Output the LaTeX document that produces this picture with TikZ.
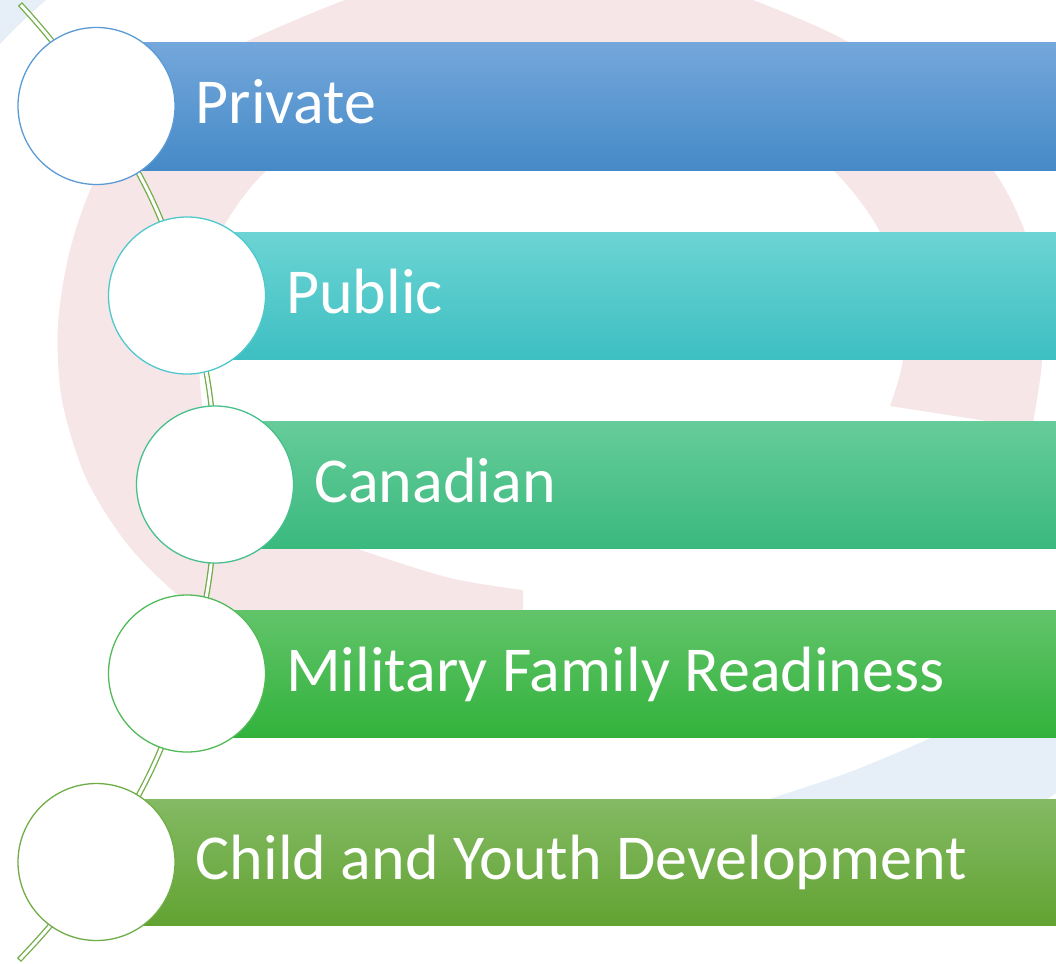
\documentclass[tikz,border=0pt]{standalone}
\usepackage{fontspec}
\setmainfont{Carlito}
\definecolor{bgpink}{RGB}{246,230,232}
\definecolor{bgblue}{RGB}{230,238,248}
\definecolor{linkgreen}{RGB}{112,173,71}
\definecolor{b1t}{RGB}{116,167,219}\definecolor{b1m}{RGB}{88,156,218}\definecolor{b1b}{RGB}{69,138,199}
\definecolor{b2t}{RGB}{108,212,212}\definecolor{b2m}{RGB}{80,208,212}\definecolor{b2b}{RGB}{62,191,194}
\definecolor{b3t}{RGB}{102,204,153}\definecolor{b3m}{RGB}{71,198,139}\definecolor{b3b}{RGB}{58,185,126}
\definecolor{b4t}{RGB}{98,196,106}\definecolor{b4m}{RGB}{66,190,74}\definecolor{b4b}{RGB}{50,178,60}
\definecolor{b5t}{RGB}{132,186,100}\definecolor{b5m}{RGB}{108,174,62}\definecolor{b5b}{RGB}{98,163,50}
\definecolor{c1c}{RGB}{91,155,213}
\definecolor{c2c}{RGB}{79,200,204}
\definecolor{c3c}{RGB}{72,192,140}
\definecolor{c4c}{RGB}{82,186,88}
\definecolor{c5c}{RGB}{112,173,71}
\begin{document}
\begin{tikzpicture}[x=1pt,y=1pt,
  ring/.style={circle, minimum size=157, inner sep=0pt, fill=white, line width=1.3pt},
  lbl/.style={anchor=base west, inner sep=0pt, text=white, font=\fontsize{64}{76}\selectfont}]
\useasboundingbox (0,0) rectangle (1056,-963);
\fill[white] (0,0) rectangle (1056,-963);
% background shapes
\begin{scope}
\clip (0,0) rectangle (1056,-963);
\fill[bgpink] plot[smooth] coordinates {(523,-712) (380,-692) (262,-652) (184,-600) (128,-545) (86,-478) (62,-400) (58,-325) (70,-250) (95,-180) (140,-115) (200,-68) (250,-40) (345,0) (450,35) (550,46) (650,35) (753,0) (850,-43) (930,-102) (993,-170) (1025,-232) (1040,-300) (1042,-360) (1036,-405) (1032,-428)}
  -- plot[smooth] coordinates {(890,-406) (903,-359) (898,-300) (880,-232) (833,-170) (760,-118) (660,-88) (550,-80) (440,-92) (340,-125) (267,-170) (222,-230) (203,-300) (200,-383) (213,-450) (255,-510) (355,-548) (450,-578) (523,-590)}
  -- cycle;
\fill[bgblue] plot[smooth] coordinates {(740,-812) (770,-799) (850,-772) (933,-737) (1010,-700) (1080,-660)}
  -- (1100,-660) -- (1100,-760) -- plot[smooth] coordinates {(1056,-793) (1047,-799) (1020,-815)} -- cycle;
\fill[bgblue] (0,0) -- (46,0) .. controls (30,-14) and (14,-29) .. (0,-44) -- cycle;
\end{scope}
% circle centres and connector ends
\coordinate (p1) at (96.5,-106);
\coordinate (p2) at (187,-295.5);
\coordinate (p3) at (215,-484.5);
\coordinate (p4) at (187,-673.5);
\coordinate (p5) at (96.5,-862);
\coordinate (ctop) at (20,-4);
\coordinate (cbot) at (19,-960);
\def\mylinkpath{(ctop) to[bend left=5.5] (p1) to[bend left=9.1] (p2) to[bend left=8.3] (p3) to[bend left=8.3] (p4) to[bend left=9.1] (p5) to[bend left=5.4] (cbot)}
\draw[linkgreen, line width=5.6pt] \mylinkpath;
\draw[white, line width=3pt, shorten <=1.3pt, shorten >=1.3pt] \mylinkpath;
% bars
\shade[top color=b1t, middle color=b1m, bottom color=b1b] (96.5,-43) rectangle (1056,-170);
\shade[top color=b2t, middle color=b2m, bottom color=b2b] (187,-232) rectangle (1056,-359);
\shade[top color=b3t, middle color=b3m, bottom color=b3b] (215,-421) rectangle (1056,-548);
\shade[top color=b4t, middle color=b4m, bottom color=b4b] (187,-610) rectangle (1056,-737);
\shade[top color=b5t, middle color=b5m, bottom color=b5b] (96.5,-799) rectangle (1056,-925);
% circles
\node[ring, draw=c1c] (c1) at (p1) {};
\node[ring, draw=c2c] (c2) at (p2) {};
\node[ring, draw=c3c] (c3) at (p3) {};
\node[ring, draw=c4c] (c4) at (p4) {};
\node[ring, draw=c5c] (c5) at (p5) {};
% labels
\node[lbl] (t1) at (195.5,-124) {Private};
\node[lbl] (t2) at (286,-313) {Public};
\node[lbl] (t3) at (314,-502) {Canadian};
\node[lbl] (t4) at (286,-691) {Military Family Readiness};
\node[lbl] (t5) at (195.5,-879.5) {Child and Youth Development};
\end{tikzpicture}
\end{document}
